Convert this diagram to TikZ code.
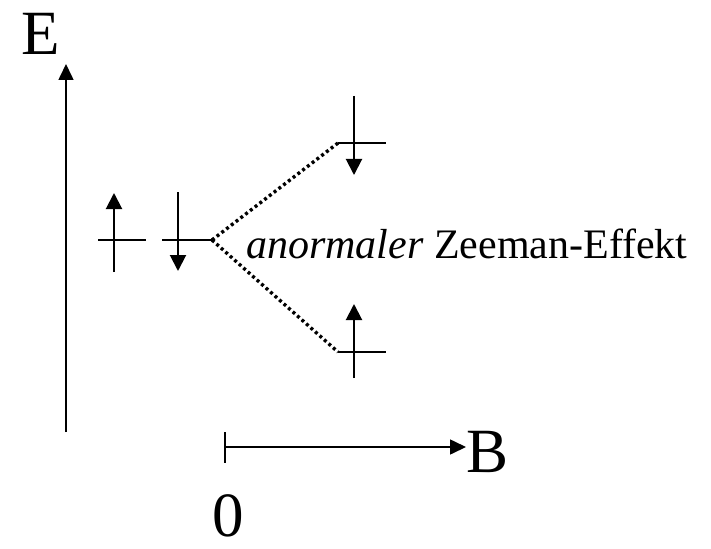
\documentclass[tikz,border=0pt]{standalone}
\usepackage{fontspec}
\setmainfont{Liberation Serif}
\usetikzlibrary{arrows.meta}
\begin{document}
\begin{tikzpicture}[x=1pt,y=-1pt,
  spin/.style={line width=2pt,-{Triangle[length=16pt,width=16pt]}},
  level/.style={line width=2.2pt},
  axis/.style={line width=1.6pt,-{Triangle[length=16pt,width=15pt]}},
  split/.style={line width=3.4pt,dash pattern=on 3pt off 3pt},
  big/.style={font=\fontsize{63}{70}\selectfont,inner sep=0pt,anchor=base},
  lab/.style={font=\fontsize{42}{48}\selectfont,inner sep=0pt,anchor=base west}]
\useasboundingbox (0,0) rectangle (711,548);
% energy axis
\coordinate (Ebot) at (66,432);
\coordinate (Etop) at (66,64);
\draw[axis] (Ebot) -- (Etop);
\node[big] (E) at (41,55) {E};
% B axis
\coordinate (B0) at (225,447);
\coordinate (Bend) at (466,447);
\draw[line width=1.6pt] (225,432) -- (225,463);
\draw[axis] (B0) -- (Bend);
\node[big] (B) at (488,472) {B};
\node[big] (zero) at (228,536) {0};
% left levels (B = 0)
\coordinate (Lup) at (114,240);
\draw[level] (98,240) -- (146,240);
\draw[spin] (114,272) -- (114,193);
\coordinate (Ldn) at (178,240);
\coordinate (Ljoin) at (212,240);
\draw[level] (162,240) -- (Ljoin);
\draw[spin] (178,192) -- (178,271);
% upper right level
\coordinate (Uleft) at (338,143);
\draw[level] (Uleft) -- (386,143);
\draw[spin] (354,96) -- (354,175);
% lower right level
\coordinate (Dleft) at (338,352);
\draw[level] (Dleft) -- (386,352);
\draw[spin] (354,378) -- (354,304);
% splitting
\draw[split] (Ljoin) -- (Uleft);
\draw[split] (Ljoin) -- (Dleft);
\node[lab] (txt) at (246,258) {\textit{anormaler} Zeeman-Effekt};
\end{tikzpicture}
\end{document}
